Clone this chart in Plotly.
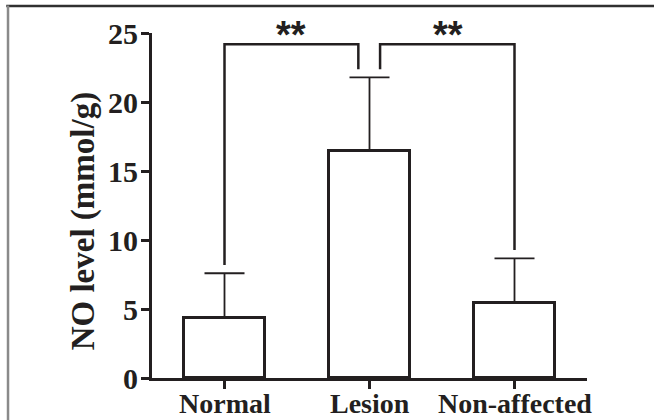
import plotly.graph_objects as go

# ---- data ----
categories = ["Normal", "Lesion", "Non-affected"]
means = [4.37, 16.47, 5.46]
errors_up = [3.22, 5.32, 3.21]
y_ticks = [0, 5, 10, 15, 20, 25]
y_title = "NO level (mmol/g)"

# significance brackets: x positions (category units) and y levels
bracket_left_x = [0, 0, 0.923, 0.923]
bracket_left_y = [8.19, 24.18, 24.18, 22.37]
bracket_right_x = [1.073, 1.073, 2, 2]
bracket_right_y = [22.37, 24.18, 24.18, 9.28]
sig_labels = ["**", "**"]
sig_x = [0.46, 1.54]

INK = "#231f20"
FONT = "Liberation Serif, Times New Roman, serif"
xs = list(range(len(categories)))

fig = go.Figure()
fig.add_trace(go.Bar(
    x=xs, y=means,
    width=0.555,
    marker=dict(color="white", line=dict(color=INK, width=3)),
    error_y=dict(type="data", array=errors_up, arrayminus=[0] * len(means),
                 symmetric=False, color=INK, thickness=1.8, width=20),
    showlegend=False,
))
for bx, by in [(bracket_left_x, bracket_left_y), (bracket_right_x, bracket_right_y)]:
    fig.add_trace(go.Scatter(x=bx, y=by, mode="lines",
                             line=dict(color=INK, width=2.5),
                             showlegend=False, hoverinfo="skip"))

for lab, sx in zip(sig_labels, sig_x):
    fig.add_annotation(x=sx, y=0.995, xref="x", yref="paper",
                       text="<b>%s</b>" % lab, showarrow=False,
                       font=dict(family="Liberation Sans, Arial, sans-serif", size=38, color=INK),
                       xanchor="center", yanchor="middle")

# category labels below the x axis
for cx, c in zip(xs, categories):
    fig.add_annotation(x=cx, y=-0.075, xref="x", yref="paper",
                       text="<b>%s</b>" % c, showarrow=False,
                       font=dict(family=FONT, size=28, color=INK),
                       xanchor="center", yanchor="middle")

# y-axis title as annotation
fig.add_annotation(x=-0.158, y=0.455, xref="paper", yref="paper",
                   text="<b>%s</b>" % y_title, textangle=-90, showarrow=False,
                   font=dict(family=FONT, size=33, color=INK),
                   xanchor="center", yanchor="middle")

# image frame (top and left edges)
fig.add_shape(type="line", xref="paper", yref="paper", layer="above",
              x0=-0.335, x1=1.16, y0=1.078, y1=1.078,
              line=dict(color="#303030", width=2.5))
fig.add_shape(type="line", xref="paper", yref="paper", layer="above",
              x0=-0.3310, x1=-0.3310, y0=1.08, y1=-0.13,
              line=dict(color="#8a8a8a", width=2.5))

fig.update_layout(
    width=654, height=420,
    margin=dict(l=152, r=67, t=33, b=42),
    paper_bgcolor="white", plot_bgcolor="white",
    font=dict(family=FONT, color=INK),
    bargap=0,
)
fig.update_xaxes(
    range=[-0.5, 2.5], tickvals=xs, showticklabels=False,
    showline=True, linecolor=INK, linewidth=3,
    ticks="outside", ticklen=8, tickwidth=2.5, tickcolor=INK,
    showgrid=False, zeroline=False, automargin=False,
)
fig.update_yaxes(
    range=[0, 25], tickvals=y_ticks,
    ticktext=["<b>%d</b>" % v for v in y_ticks],
    tickfont=dict(family=FONT, size=30, color=INK),
    showline=True, linecolor=INK, linewidth=3,
    ticks="outside", ticklen=8, tickwidth=2.5, tickcolor=INK,
    ticklabelstandoff=-3,
    showgrid=False, zeroline=False, automargin=False,
)

fig.write_html(
    "out.html",
    config={"displayModeBar": False},
    post_script="document.body.style.margin='0';document.body.style.overflow='hidden';",
)
